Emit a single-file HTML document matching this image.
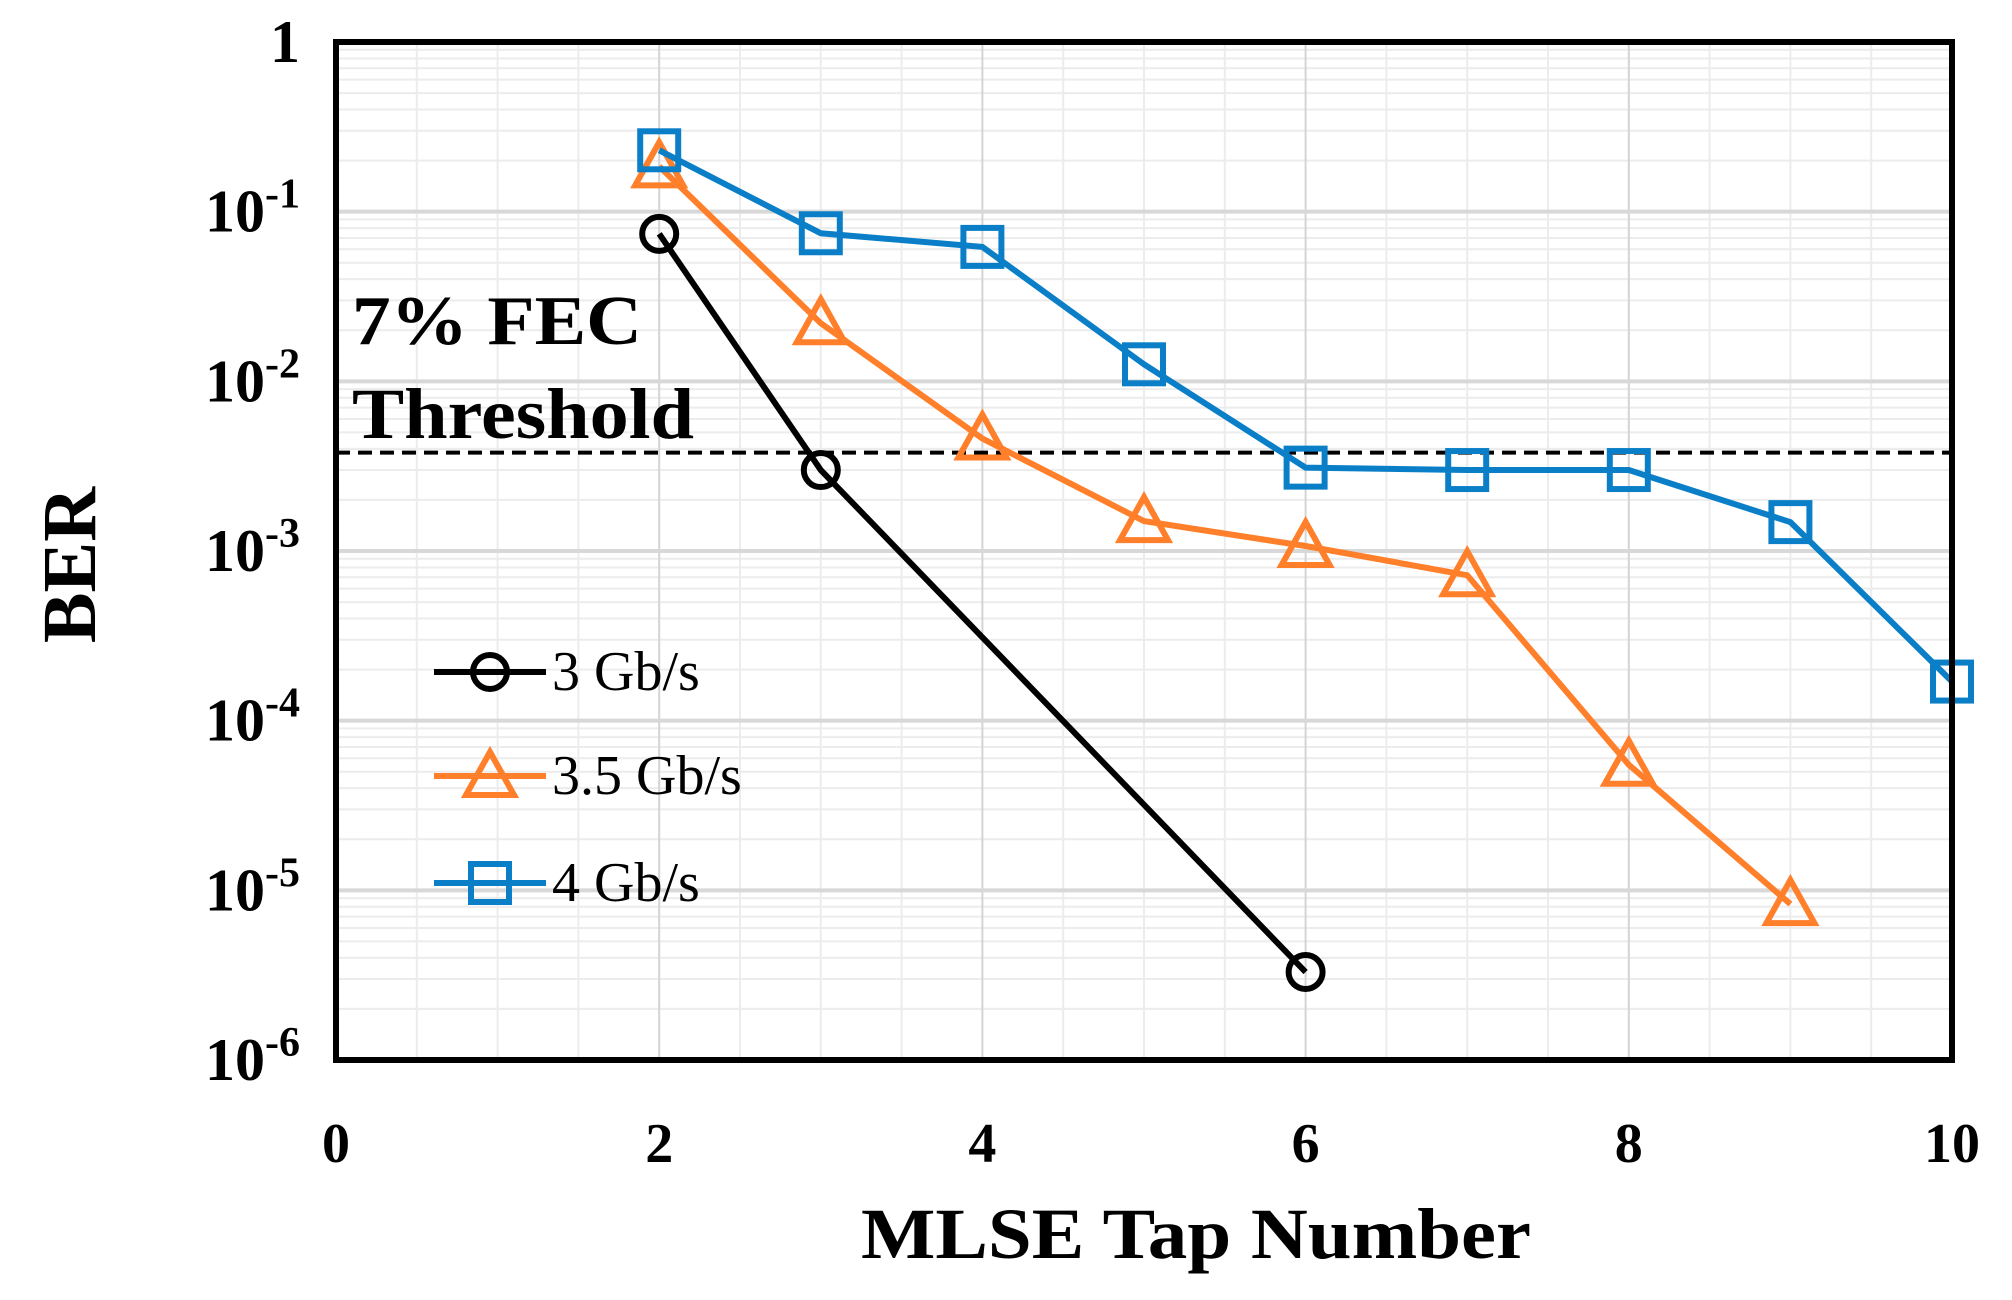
<!DOCTYPE html>
<html><head><meta charset="utf-8"><style>
html,body{margin:0;padding:0;background:#fff}
svg{display:block}
text{font-family:"Liberation Serif",serif;font-weight:bold;fill:#000}
</style></head><body>
<svg id="chart" width="2012" height="1300" viewBox="0 0 2012 1300"></svg>
<script>
const xTicks=[0,2,4,6,8,10];
const yExps=[0,-1,-2,-3,-4,-5,-6];
const xs3=[2,3,6];
const ber3=[0.074,0.003,3.3e-6];
const xs35=[2,3,4,5,6,7,8,9];
const ber35=[0.185,0.022,0.0046,0.0015,0.00107,0.00072,5.5e-5,8.3e-6];
const xs4=[2,3,4,5,6,7,8,9,10];
const ber4=[0.23,0.0746,0.062,0.0126,0.0031,0.003,0.003,0.00148,0.00017];
const fecThreshold=0.0038;
const seriesNames=["3 Gb/s","3.5 Gb/s","4 Gb/s"];

const L=336,R=1952,T=42,B=1060;
const NS="http://www.w3.org/2000/svg";
const svg=document.getElementById('chart');
function X(v){return L+(v-0)/(10-0)*(R-L);}
function Y(v){return T+(-Math.log10(v))/6*(B-T);}
function el(tag,attrs,parent){const e=document.createElementNS(NS,tag);for(const k in attrs)e.setAttribute(k,attrs[k]);(parent||svg).appendChild(e);return e;}

const grid=el('g',{});


for(let d=0;d<6;d++){for(let m=2;m<=9;m++){const y=Y(m*Math.pow(10,-d-1));el('line',{x1:L,x2:R,y1:y,y2:y,stroke:'#ececec','stroke-width':2},grid);}}
for(let v=0.5;v<10;v+=0.5){el('line',{x1:X(v),x2:X(v),y1:T,y2:B,stroke:(v%2===0)?'#d4d4d4':'#ececec','stroke-width':2},grid);}
for(const e of yExps){const y=Y(Math.pow(10,e));el('line',{x1:L,x2:R,y1:y,y2:y,stroke:'#d8d8d8','stroke-width':4},grid);}

const th=el('line',{x1:L,x2:R,y1:Y(fecThreshold),y2:Y(fecThreshold),stroke:'#000','stroke-width':4,'stroke-dasharray':'14 8'});


const t1=el('text',{x:352,y:344,'font-size':70,textLength:290,lengthAdjust:'spacingAndGlyphs'});t1.textContent='7% FEC';


const t2=el('text',{x:352,y:438,'font-size':72,textLength:342,lengthAdjust:'spacingAndGlyphs'});t2.textContent='Threshold';



for(const v of xTicks){const t=el('text',{x:X(v),y:1162,'font-size':56,'text-anchor':'middle'});t.textContent=v;

}
for(const e of yExps){const y=Y(Math.pow(10,e));const t=el('text',{x:300,y:y+20,'font-size':60,'text-anchor':'end'});
if(e===0){t.textContent='1';}else{t.textContent='10';const s=el('tspan',{dy:-24,'font-size':42},t);s.textContent=String(e);}

}
const xt=el('text',{x:1196,y:1258,'font-size':72,'text-anchor':'middle',textLength:670,lengthAdjust:'spacingAndGlyphs'});xt.textContent='MLSE Tap Number';


const yt=el('text',{x:0,y:0,'font-size':76,'text-anchor':'middle',transform:'translate(95,565) rotate(-90)'});yt.textContent='BER';



function marker(type,cx,cy,color,g){
 if(type==='circle')return el('circle',{cx:cx,cy:cy,r:17,fill:'none',stroke:color,'stroke-width':6},g);
 if(type==='square')return el('rect',{x:cx-19,y:cy-19,width:38,height:38,fill:'none',stroke:color,'stroke-width':6},g);
 return el('polygon',{points:`${cx},${cy-24} ${cx+24},${cy+19} ${cx-24},${cy+19}`,fill:'none',stroke:color,'stroke-width':6},g);
}
function series(xs,ys,color,type,name){
 const g=el('g',{});
 
 
 el('polyline',{points:xs.map((x,i)=>X(x)+','+Y(ys[i])).join(' '),fill:'none',stroke:color,'stroke-width':6},g);
 xs.forEach((x,i)=>{const m=marker(type,X(x),Y(ys[i]),color,g);
 
 });
}
series(xs3,ber3,'#000','circle','series-3gbps');
series(xs35,ber35,'#ff7f2a','triangle','series-3-5gbps');
series(xs4,ber4,'#0a7fc8','square','series-4gbps');

const fr=el('rect',{x:L,y:T,width:R-L,height:B-T,fill:'none',stroke:'#000','stroke-width':6});



const leg=[['#000','circle',672],['#ff7f2a','triangle',776],['#0a7fc8','square',883]];
leg.forEach((l,i)=>{const g=el('g',{});
 
 
 el('line',{x1:434,x2:546,y1:l[2],y2:l[2],stroke:l[0],'stroke-width':6},g);
 marker(l[1],490,l[2],l[0],g);
 const t=el('text',{x:552,y:l[2]+18,'font-size':56},g);t.style.fontWeight='normal';t.textContent=seriesNames[i];
});
</script>
</body></html>
